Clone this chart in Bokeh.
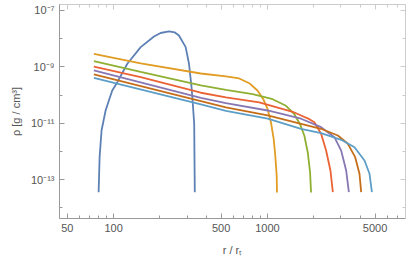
from bokeh.plotting import figure
from bokeh.models import Range1d, FixedTicker, LogAxis, CustomJSTickFormatter, ColumnDataSource
from bokeh.embed import file_html
from bokeh.resources import INLINE

# ---- data ----
blue_r = [79.9, 81.1, 83.5, 88.7, 93.2, 98.0, 105.7, 122.8, 150, 183, 202, 229, 250, 266, 294, 309, 321, 326, 334, 337]
blue_rho = [3.6e-14, 6.28e-13, 5.56e-12, 2.84e-11, 6.44e-11, 1.46e-10, 2.87e-10, 1.29e-9, 5.0e-9, 1.2e-8,
            1.59e-8, 1.8e-8, 1.66e-8, 1.3e-8, 5.0e-9, 1.29e-9, 1.9e-10, 6.44e-11, 9.84e-12, 3.6e-14]

orange_r = [74.4, 150, 369, 537, 655, 761, 864, 939, 1003, 1054, 1098, 1124, 1148, 1153]
orange_rho = [2.91e-9, 1.32e-9, 5.83e-10, 4.57e-10, 3.88e-10, 2.64e-10, 1.42e-10, 7.15e-11, 3.16e-11,
              1.07e-11, 2.73e-12, 7.04e-13, 1.38e-13, 3.5e-14]

green_r = [74.4, 150, 369, 537, 801, 1081, 1320, 1495, 1628, 1737, 1828, 1892, 1920]
green_rho = [1.59e-9, 6.65e-10, 2.19e-10, 1.54e-10, 1.08e-10, 7.15e-11, 4.18e-11, 2.10e-11, 9.29e-12,
             3.60e-12, 9.23e-13, 1.80e-13, 3.5e-14]

red_r = [74.4, 150, 369, 537, 884, 1459, 1653, 1872, 2018, 2231, 2405, 2566, 2660]
red_rho = [1.03e-9, 4.32e-10, 1.21e-10, 8.22e-11, 5.47e-11, 2.56e-11, 1.89e-11, 1.40e-11, 1.09e-11,
           4.25e-12, 1.08e-12, 2.12e-13, 3.6e-14]

purple_r = [74.4, 369, 537, 1003, 1653, 2231, 2724, 3012, 3246, 3381]
purple_rho = [7.45e-10, 8.02e-11, 5.16e-11, 2.84e-11, 1.45e-11, 7.28e-12, 3.21e-12, 1.08e-12, 2.12e-13, 3.6e-14]

brown_r = [74.4, 369, 537, 1003, 1653, 2231, 2867, 3330, 3716, 3963, 4065]
brown_rho = [5.37e-10, 6.08e-11, 3.63e-11, 1.89e-11, 9.59e-12, 6.38e-12, 3.69e-12, 1.87e-12, 6.28e-13,
             1.62e-13, 3.6e-14]

cyan_r = [74.4, 369, 537, 1003, 1653, 2231, 3012, 3678, 4272, 4605, 4773]
cyan_rho = [4.10e-10, 4.64e-11, 2.77e-11, 1.45e-11, 6.38e-12, 4.46e-12, 2.60e-12, 1.42e-12, 4.80e-13,
            1.62e-13, 3.6e-14]

x_major = [50, 100, 500, 1000, 5000]
x_minor = [60, 70, 80, 90, 200, 300, 400, 600, 700, 800, 900, 2000, 3000, 4000, 6000, 7000]
y_major = [1e-13, 1e-11, 1e-9, 1e-7]
y_minor = [1e-14, 1e-12, 1e-10, 1e-8]

series = [
    (blue_r, blue_rho, "#5E81B5"),
    (orange_r, orange_rho, "#E19C24"),
    (green_r, green_rho, "#8FB032"),
    (red_r, red_rho, "#EB6235"),
    (purple_r, purple_rho, "#8778B3"),
    (brown_r, brown_rho, "#C56E1A"),
    (cyan_r, cyan_rho, "#5D9EC7"),
]

FONT = "Liberation Sans"
TXT = "#555555"
AX = "#999999"
LIGHT = "#cccccc"

p = figure(width=411, height=261, x_axis_type="log", y_axis_type="log",
           x_range=Range1d(44.5, 7890), y_range=Range1d(4.2e-15, 1.63e-7),
           output_backend="svg", toolbar_location=None,
           min_border_left=59, min_border_right=6, min_border_top=4, min_border_bottom=43)
p.grid.visible = False
p.outline_line_color = LIGHT
p.background_fill_color = "white"
p.border_fill_color = "white"

for r, rho, c in series:
    src = ColumnDataSource(dict(r=r, rho=rho))
    p.line("r", "rho", source=src, line_color=c, line_width=1.8)

sup_code = """
const m = {'-':'\u207b','0':'\u2070','1':'\u00b9','2':'\u00b2','3':'\u00b3','4':'\u2074','5':'\u2075','6':'\u2076','7':'\u2077','8':'\u2078','9':'\u2079'};
const e = Math.round(Math.log10(tick));
return '10' + String(e).split('').map(c => m[c]).join('');
"""

def style(ax):
    ax.axis_line_color = AX
    ax.major_tick_line_color = AX
    ax.minor_tick_line_color = AX
    ax.major_tick_in = 5
    ax.major_tick_out = 0
    ax.minor_tick_in = 3
    ax.minor_tick_out = 0
    ax.major_label_text_font = FONT
    ax.major_label_text_color = TXT
    ax.major_label_text_font_size = "11px"
    ax.major_label_standoff = 5
    ax.axis_label_text_font = FONT
    ax.axis_label_text_color = TXT
    ax.axis_label_text_font_size = "11px"
    ax.axis_label_text_font_style = "normal"

xa = p.xaxis[0]
xa.ticker = FixedTicker(ticks=x_major, minor_ticks=x_minor)
xa.formatter = CustomJSTickFormatter(code="return String(Math.round(tick));")
style(xa)
xa.axis_label = "r / r\u209c"
xa.axis_label_standoff = 9

ya = p.yaxis[0]
ya.ticker = FixedTicker(ticks=y_major, minor_ticks=y_minor)
ya.formatter = CustomJSTickFormatter(code=sup_code)
style(ya)
ya.axis_label = "\u03c1 [g / cm\u00b3]"
ya.axis_label_standoff = 6

for loc, maj, mnr in (("above", x_major, x_minor), ("right", y_major, y_minor)):
    ax = LogAxis(ticker=FixedTicker(ticks=maj, minor_ticks=mnr))
    style(ax)
    ax.major_label_text_color = None
    ax.major_label_standoff = 0
    ax.major_label_text_font_size = "1px"
    ax.axis_line_color = LIGHT
    ax.major_tick_line_color = LIGHT
    ax.minor_tick_line_color = LIGHT
    p.add_layout(ax, loc)

open("out.html", "w").write(file_html(p, INLINE))
